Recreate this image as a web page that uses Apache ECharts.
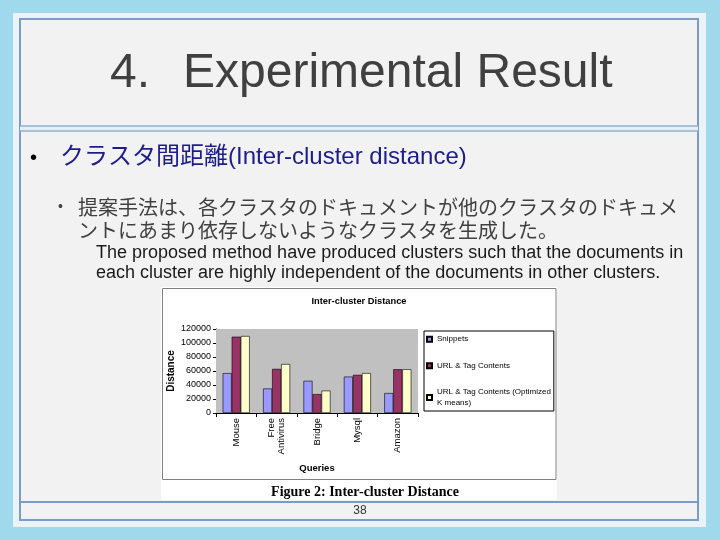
<!DOCTYPE html>
<html>
<head>
<meta charset="utf-8">
<script src="https://cdn.jsdelivr.net/npm/echarts@6/dist/echarts.min.js"></script>
<style>
  html, body { margin: 0; padding: 0; background: #a0d8ec; }
  #main { width: 720px; height: 540px; }
</style>
</head>
<body>
<div id="main"></div>
<script>
let queries = ['Mouse', 'Free\nAntivirus', 'Bridge', 'Mysql', 'Amazon'];
let seriesNames = ['Snippets', 'URL & Tag Contents', 'URL & Tag Contents (Optimized\nK means)'];
let snippets = [57000, 35000, 46000, 52000, 28500];
let urlTag = [109000, 63000, 27000, 54500, 62500];
let urlTagKmeans = [110000, 70000, 32000, 57000, 62500];
let yTicks = [0, 20000, 40000, 60000, 80000, 100000, 120000];
let barColors = ['#9999ff', '#993366', '#ffffcc'];

let sans = '"Liberation Sans", Arial, "Noto Sans CJK JP"';
let frameColor = '#7a9cc6';

function txt(text, x, y, font, fill, align) {
    return {
        type: 'text',
        z: 1,
        style: {
            text: text,
            x: x,
            y: y,
            font: font,
            fill: fill,
            align: align || 'left',
            verticalAlign: 'middle'
        }
    };
}

let slide = [
    // slide panel
    { type: 'rect', z: 0, shape: { x: 13, y: 13, width: 693, height: 514 }, style: { fill: '#eaf3f7' } },
    { type: 'rect', z: 0, shape: { x: 20, y: 19, width: 678, height: 501 }, style: { fill: '#f2f2f2', stroke: frameColor, lineWidth: 2 } },
    { type: 'rect', z: 0, shape: { x: 20, y: 126, width: 678, height: 5 }, style: { fill: '#e6eef5' } },
    { type: 'line', z: 0, shape: { x1: 20, y1: 126, x2: 698, y2: 126 }, style: { stroke: '#8fb0d0', lineWidth: 1.5 } },
    { type: 'line', z: 0, shape: { x1: 20, y1: 131, x2: 698, y2: 131 }, style: { stroke: '#8fb0d0', lineWidth: 1.5 } },
    // chart picture
    { type: 'rect', z: 0, shape: { x: 161, y: 287, width: 396, height: 213 }, style: { fill: '#ffffff' } },
    { type: 'rect', z: 0, shape: { x: 162.5, y: 288.5, width: 393.5, height: 191 }, style: { fill: 'none', stroke: '#808080', lineWidth: 1 } },
    { type: 'line', z: 1, shape: { x1: 20, y1: 502, x2: 698, y2: 502 }, style: { stroke: frameColor, lineWidth: 2 } },
    // texts
    txt('4.', 110, 74, '48px ' + sans, '#404040'),
    txt('Experimental Result', 183, 74, '48px ' + sans, '#404040'),
    txt('•', 30, 158, '20px ' + sans, '#000000'),
    txt('クラスタ間距離(Inter-cluster distance)', 60, 157, '24px ' + sans, '#1c1c8c'),
    txt('•', 58, 207, '14px ' + sans, '#404040'),
    txt('提案手法は、各クラスタのドキュメントが他のクラスタのドキュメ', 78, 207, '20px "Noto Sans CJK JP"', '#404040'),
    txt('ントにあまり依存しないようなクラスタを生成した。', 78, 230, '20px "Noto Sans CJK JP"', '#404040'),
    txt('The proposed method have produced clusters such that the documents in', 96, 253, '18px ' + sans, '#1a1a1a'),
    txt('each cluster are highly independent of the documents in other clusters.', 96, 273, '18px ' + sans, '#1a1a1a'),
    txt('Inter-cluster Distance', 359, 301, 'bold 9.3px ' + sans, '#000000', 'center'),
    txt('Figure 2: Inter-cluster Distance', 365, 492, 'bold 14px "Liberation Serif", "Times New Roman", serif', '#000000', 'center'),
    txt('38', 360, 511, '12px ' + sans, '#333333', 'center')
];

let seriesData = [snippets, urlTag, urlTagKmeans];
let series = [];
for (let i = 0; i < seriesData.length; i++) {
    series.push({
        name: seriesNames[i],
        type: 'bar',
        data: seriesData[i],
        barGap: 0,
        barCategoryGap: '33%',
        itemStyle: {
            color: barColors[i],
            borderColor: '#000000',
            borderWidth: 0.6
        }
    });
}

let option = {
    animation: false,
    backgroundColor: '#a0d8ec',
    graphic: { elements: slide },
    grid: {
        left: 216,
        top: 329,
        width: 202,
        height: 84,
        show: true,
        backgroundColor: '#c0c0c0',
        borderWidth: 0,
        z: 2
    },
    legend: {
        orient: 'vertical',
        left: 424,
        top: 331,
        backgroundColor: '#ffffff',
        borderColor: '#000000',
        borderWidth: 1,
        padding: [3, 3, 3, 2],
        itemWidth: 5,
        itemHeight: 5,
        itemGap: 16,
        icon: 'rect',
        textStyle: { fontSize: 8, lineHeight: 10.5, fontFamily: sans, color: '#000000' },
        data: seriesNames
    },
    xAxis: {
        type: 'category',
        data: queries,
        name: 'Queries',
        nameLocation: 'middle',
        nameGap: 51,
        nameMoveOverlap: false,
        nameTextStyle: { fontSize: 9.5, fontWeight: 'bold', fontFamily: sans, color: '#000000' },
        axisLine: { lineStyle: { color: '#000000', width: 1 } },
        axisTick: { show: true, length: 4, interval: 0, lineStyle: { color: '#000000' } },
        axisLabel: { rotate: 90, fontSize: 9.5, fontFamily: sans, color: '#000000', margin: 5, interval: 0 }
    },
    yAxis: {
        type: 'value',
        min: 0,
        max: 120000,
        interval: 20000,
        name: 'Distance',
        nameLocation: 'middle',
        nameGap: 40,
        nameMoveOverlap: false,
        nameRotate: 90,
        nameTextStyle: { fontSize: 10, fontWeight: 'bold', fontFamily: sans, color: '#000000' },
        axisLine: { show: true, lineStyle: { color: '#000000', width: 1 } },
        axisTick: { show: true, length: 3, lineStyle: { color: '#000000' } },
        axisLabel: {
            fontSize: 9,
            fontFamily: sans,
            color: '#000000',
            margin: 5,
            formatter: function (v) { return yTicks.indexOf(v) >= 0 ? String(v) : ''; }
        },
        splitLine: { show: true, lineStyle: { color: '#6e6e6e', width: 1 } }
    },
    series: series
};

let chart = echarts.init(document.getElementById('main'), null, { renderer: 'canvas' });
chart.setOption(option);
</script>
</body>
</html>
